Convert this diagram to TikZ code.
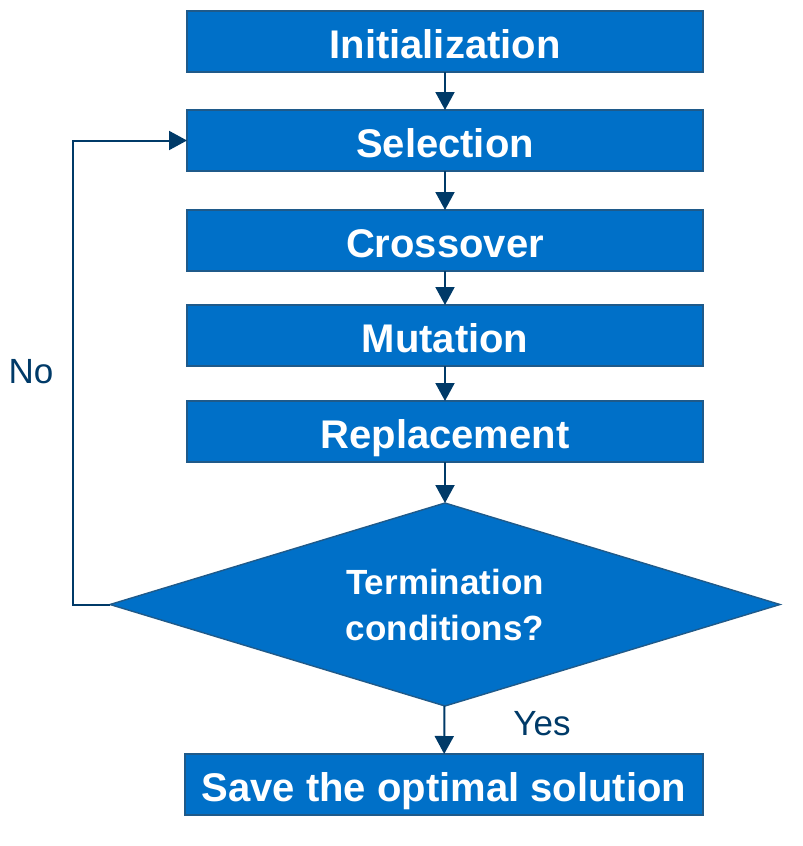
\documentclass[tikz,border=0pt]{standalone}
\usepackage{fontspec}
\setmainfont{Liberation Sans}
\usetikzlibrary{arrows.meta,shapes.geometric}
\definecolor{stepfill}{HTML}{0070C8}
\definecolor{stepline}{HTML}{1F5A8A}
\definecolor{flowline}{HTML}{003A68}

\begin{document}
\begin{tikzpicture}[x=0.5pt,y=-0.5pt,
  stepbox/.style={draw=stepline,line width=0.7pt,fill=stepfill,text=white,
    font=\fontsize{20}{24}\selectfont\bfseries,minimum width=258pt,
    minimum height=30.5pt,inner sep=0pt,outer sep=0pt,
    text height=17.5pt,text depth=1pt},
  testbox/.style={diamond,aspect=3.3,draw=stepline,line width=0.7pt,fill=stepfill,
    text=white,font=\fontsize{17.5}{23}\selectfont\bfseries,align=center,
    minimum width=335pt,minimum height=101.5pt,inner sep=0pt,outer sep=0pt},
  flow/.style={draw=flowline,line width=1pt,-{Triangle[width=9.5pt,length=9pt]}},
  lbl/.style={text=flowline,font=\fontsize{17.5}{21}\selectfont}]
\useasboundingbox (0,0) rectangle (803,846);
% steps of the loop
\node[stepbox] (init) at (445,41.5) {Initialization};
\node[stepbox] (sel) at (445,140.5) {Selection};
\node[stepbox] (cross) at (445,240.5) {Crossover};
\node[stepbox] (mut) at (445,335.5) {Mutation};
\node[stepbox] (repl) at (445,431.5) {Replacement};
\node[testbox] (cond) at (445,604.5) {Termination\\conditions?};
\node[stepbox,minimum width=259pt] (save) at (444,784.5) {Save the optimal solution};
% connectors
\draw[flow] (init) -- (sel);
\draw[flow] (sel) -- (cross);
\draw[flow] (cross) -- (mut);
\draw[flow] (mut) -- (repl);
\draw[flow] (repl) -- (cond);
\draw[flow] (cond) -- (save);
\coordinate (turn) at (73,604.5);
\draw[flow] (cond.west) -- (turn) |- (sel.west);
\node[lbl] (no) at (31,372) {No};
\node[lbl] (yes) at (542,724) {Yes};
\end{tikzpicture}
\end{document}
